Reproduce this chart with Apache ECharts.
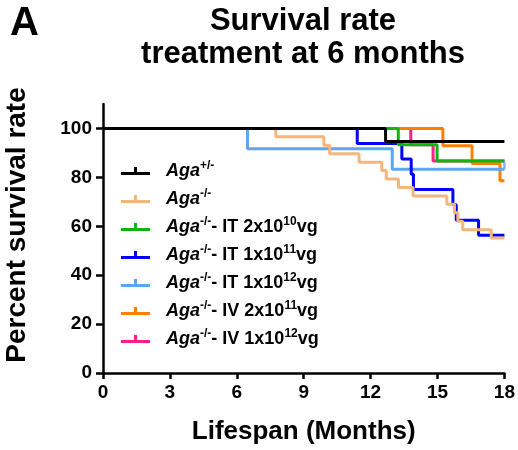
<!DOCTYPE html>
<html>
<head>
<meta charset="utf-8">
<script src="https://cdn.jsdelivr.net/npm/echarts@6/dist/echarts.min.js"></script>
<style>
html,body{margin:0;padding:0;background:#fff}
#chart{width:518px;height:450px}
</style>
</head>
<body>
<div id="chart"></div>
<script>
// axis ticks
var xTicks = [0, 3, 6, 9, 12, 15, 18];
var yTicks = [0, 20, 40, 60, 80, 100];

// group names (legend order)
var groupNames = ['Aga+/-', 'Aga-/-', 'IT 2x10^10vg', 'IT 1x10^11vg', 'IT 1x10^12vg', 'IV 2x10^11vg', 'IV 1x10^12vg'];
var groupLabels = [
    '{i|Aga}{s|+/-}',
    '{i|Aga}{s|-/-}',
    '{i|Aga}{s|-/-}{t|- IT 2x10}{s|10}{t|vg}',
    '{i|Aga}{s|-/-}{t|- IT 1x10}{s|11}{t|vg}',
    '{i|Aga}{s|-/-}{t|- IT 1x10}{s|12}{t|vg}',
    '{i|Aga}{s|-/-}{t|- IV 2x10}{s|11}{t|vg}',
    '{i|Aga}{s|-/-}{t|- IV 1x10}{s|12}{t|vg}'
];
var groupColors = ['#000000', '#F5B67C', '#10B410', '#0000FF', '#5CA6F5', '#FF8000', '#FF1E8C'];

// Kaplan-Meier steps: months / percent survival
var hetMonths = [0, 12.67, 18];
var hetSurv   = [100, 94.7, 94.7];

var koMonths = [0, 7.75, 9.9, 10.16, 11.48, 12.5, 12.7, 13.25, 13.9, 15.42, 15.76, 15.91, 16.13, 17.41, 18];
var koSurv   = [100, 96.6, 93.1, 89.7, 86.2, 82.8, 79.3, 75.9, 72.4, 69.0, 65.5, 62.1, 58.6, 55.2, 55.2];

var it10Months = [0, 13.24, 14.98, 18];
var it10Surv   = [100, 93.3, 86.7, 86.7];

var it11Months = [0, 11.4, 13.4, 13.82, 13.92, 15.69, 15.84, 16.84, 18];
var it11Surv   = [100, 93.8, 87.5, 81.3, 75.0, 68.8, 62.5, 56.3, 56.3];

var it12Months = [0, 6.48, 12.97, 18];
var it12Surv   = [100, 91.7, 83.3, 83.3];

var iv11Months = [0, 15.24, 16.55, 17.8, 18];
var iv11Surv   = [100, 92.9, 85.7, 78.6, 78.6];

var iv12Months = [0, 13.8, 14.8, 18];
var iv12Surv   = [100, 93.3, 86.7, 86.7];

// censored marks (IT 1x10^12 at end of follow-up)
var censorMonths = [18];
var censorSurv   = [83.3];

var allMonths = [hetMonths, koMonths, it10Months, it11Months, it12Months, iv11Months, iv12Months];
var allSurv   = [hetSurv, koSurv, it10Surv, it11Surv, it12Surv, iv11Surv, iv12Surv];

var FONT = 'Liberation Sans, Arial, sans-serif';

function pairs(xs, ys){
    var out = [];
    for (var i = 0; i < xs.length; i++) { out.push([xs[i], ys[i]]); }
    return out;
}

var series = [];
for (var i = 0; i < groupNames.length; i++) {
    series.push({
        name: groupNames[i],
        type: 'line',
        step: 'end',
        showSymbol: false,
        z: 10 - i,
        lineStyle: { color: groupColors[i], width: 3 },
        itemStyle: { color: groupColors[i] },
        data: pairs(allMonths[i], allSurv[i])
    });
}
series.push({
    name: 'censored',
    type: 'scatter',
    symbol: 'rect',
    symbolSize: [2.5, 7],
    symbolOffset: [0, -3.5],
    z: 5,
    itemStyle: { color: groupColors[4] },
    data: pairs(censorMonths, censorSurv)
});

var labelMap = {};
for (var j = 0; j < groupNames.length; j++) { labelMap[groupNames[j]] = groupLabels[j]; }

var chart = echarts.init(document.getElementById('chart'));
var option = {
    animation: false,
    backgroundColor: '#ffffff',
    textStyle: { fontFamily: FONT },
    graphic: [
        {
            type: 'text', left: 10, top: 4,
            style: { text: 'A', font: 'bold 40px ' + FONT, fill: '#000' }
        },
        {
            type: 'text', x: 303, y: 5,
            style: {
                text: 'Survival rate\ntreatment at 6 months',
                font: 'bold 31px ' + FONT, fill: '#000',
                textAlign: 'center', lineHeight: 33
            }
        },
        {
            type: 'text', x: 17, y: 225, rotation: Math.PI / 2,
            style: {
                text: 'Percent survival rate',
                font: 'bold 28px ' + FONT, fill: '#000',
                textAlign: 'center', textVerticalAlign: 'middle'
            }
        }
    ],
    grid: { left: 103, right: 13, top: 104, bottom: 77 },
    legend: {
        orient: 'vertical',
        left: 116,
        top: 155,
        itemWidth: 29,
        itemHeight: 8,
        itemGap: 8,
        icon: 'path://M0,6h29v3H0z M13,1h3v5h-3z',
        data: groupNames,
        formatter: function(name){ return labelMap[name]; },
        textStyle: {
            padding: [0, 0, 0, 11],
            rich: {
                i: { fontFamily: FONT, fontWeight: 'bold', fontStyle: 'italic', fontSize: 18, lineHeight: 22, color: '#000' },
                t: { fontFamily: FONT, fontWeight: 'bold', fontSize: 18, lineHeight: 22, color: '#000' },
                s: { fontFamily: FONT, fontWeight: 'bold', fontSize: 12, lineHeight: 12, verticalAlign: 'top', color: '#000' }
            }
        }
    },
    xAxis: {
        type: 'value',
        min: 0, max: 18, interval: 3,
        name: 'Lifespan (Months)',
        nameLocation: 'middle',
        nameGap: 46,
        nameTextStyle: { fontFamily: FONT, fontWeight: 'bold', fontSize: 26, color: '#000' },
        axisLine: { lineStyle: { color: '#000', width: 2.5 } },
        axisTick: { length: 6, lineStyle: { color: '#000', width: 2.5 } },
        axisLabel: { margin: 10, fontFamily: FONT, fontWeight: 'bold', fontSize: 19, color: '#000',
            customValues: xTicks },
        splitLine: { show: false }
    },
    yAxis: {
        type: 'value',
        min: 0, max: 110, interval: 20,
        axisLine: { show: true, lineStyle: { color: '#000', width: 2.5 } },
        axisTick: { show: true, length: 7, lineStyle: { color: '#000', width: 2.5 }, customValues: yTicks },
        axisLabel: { margin: 11, fontFamily: FONT, fontWeight: 'bold', fontSize: 19, color: '#000', customValues: yTicks },
        splitLine: { show: false }
    },
    series: series
};
chart.setOption(option);
</script>
</body>
</html>
